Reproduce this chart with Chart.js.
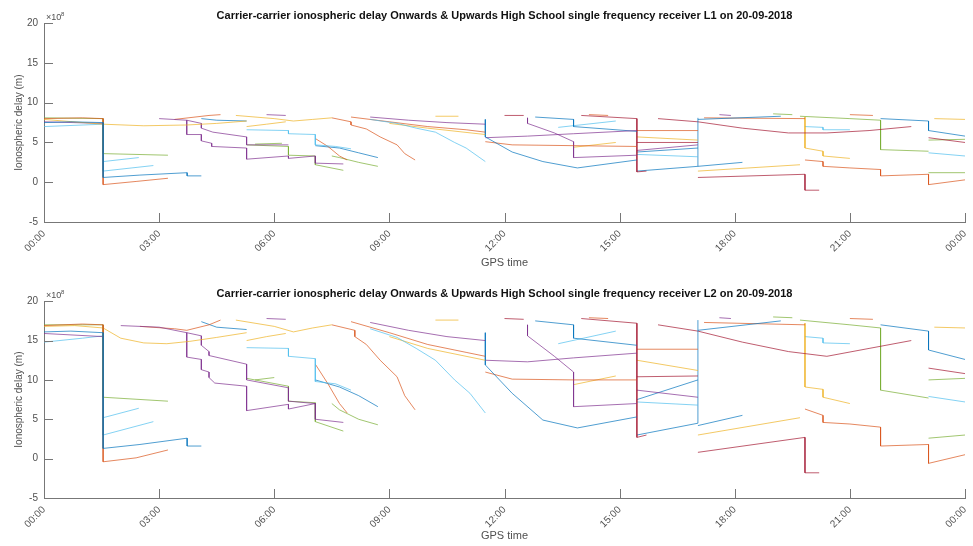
<!DOCTYPE html>
<html>
<head>
<meta charset="utf-8">
<script src="https://cdn.jsdelivr.net/npm/chart.js@4.4.1/dist/chart.umd.min.js"></script>
<style>
  body { margin: 0; background: #fff; }
  .panel { position: absolute; left: 0; width: 973px; height: 273px; }
</style>
</head>
<body>
<div class="panel" style="top:0"><canvas id="chartL1" width="973" height="273"></canvas></div>
<div class="panel" style="top:273px"><canvas id="chartL2" width="973" height="273"></canvas></div>
<script>
// MATLAB default line colours
const matlabColors = ['#0072BD', '#D95319', '#EDB120', '#7E2F8E', '#77AC30', '#4DBEEE', '#A2142F'];

// x-axis tick labels (every 3 h)
const hourLabels = ['00:00', '03:00', '06:00', '09:00', '12:00', '15:00', '18:00', '21:00', '00:00'];

// satellite tracks, [GPS hour, delay x1e8 m]
const l1Tracks = [
  [[0, 7.5], [0.7, 7.6], [1.54, 7.5], [1.54, 0.6], [2.5, 0.9], [3.73, 1.2], [3.73, 0.8], [4.1, 0.8]],
  [[0, 8.0], [1.0, 8.1], [1.54, 8.0], [1.54, -0.3], [2.4, 0.1], [3.23, 0.5]],
  [[0, 7.9], [1.54, 7.3], [2.6, 7.1], [3.72, 7.2], [4.5, 7.4], [5.28, 7.7]],
  [[0, 7.6], [1.54, 7.4]],
  [[0, 8.1], [1.54, 8.0], [1.54, 3.6], [3.23, 3.4]],
  [[0, 7.0], [1.54, 7.3], [1.54, 1.4], [2.85, 2.1]],
  [[1.54, 2.6], [2.47, 3.1]],
  [[3.0, 8.0], [3.72, 7.8], [3.72, 6.0], [4.1, 6.0], [4.1, 5.2], [4.37, 4.9], [4.37, 4.5], [5.28, 4.3], [5.28, 2.9], [6.37, 3.3], [6.37, 3.0], [7.07, 3.3], [7.07, 2.4], [7.8, 2.3]],
  [[3.72, 7.8], [4.1, 7.4], [4.1, 6.8], [4.4, 6.3], [5.28, 5.7], [5.28, 4.7], [6.37, 4.7]],
  [[3.4, 7.9], [4.3, 8.4], [4.6, 8.5]],
  [[4.1, 8.0], [4.5, 7.8], [5.28, 7.7]],
  [[5.28, 6.6], [6.37, 6.5], [6.37, 6.1], [7.07, 6.0], [7.07, 4.7], [7.6, 4.5], [8.0, 4.2]],
  [[5.28, 4.7], [6.37, 4.5], [6.37, 3.4], [7.07, 3.3], [7.07, 2.2], [7.8, 1.5]],
  [[5.5, 4.8], [6.2, 4.9]],
  [[5.0, 8.4], [6.0, 8.0], [6.5, 7.7], [7.0, 7.9], [7.5, 8.1]],
  [[7.07, 5.5], [7.4, 4.5], [7.7, 3.3], [7.9, 2.8]],
  [[5.28, 7.0], [5.8, 7.3], [6.3, 7.6]],
  [[7.5, 8.1], [8.0, 7.6], [8.0, 7.2], [8.4, 6.7], [8.76, 5.7], [9.2, 4.7], [9.4, 3.6], [9.67, 2.8]],
  [[7.07, 4.6], [7.7, 4.3], [8.2, 3.7], [8.7, 3.1]],
  [[7.5, 3.3], [7.7, 3.1], [8.2, 2.5], [8.7, 2.0]],
  [[8.5, 7.9], [9.2, 7.4], [9.7, 6.8], [10.2, 6.3], [10.7, 5.0], [11.0, 4.3], [11.5, 2.6]],
  [[8.0, 8.2], [9.0, 7.6], [10.0, 7.0], [11.0, 6.6], [11.5, 6.3]],
  [[8.5, 8.2], [9.5, 7.8], [10.5, 7.5], [11.5, 7.3]],
  [[9.0, 7.4], [10.0, 6.8], [11.5, 6.0]],
  [[11.5, 7.9], [11.5, 5.7], [12.2, 3.8], [13.0, 2.6], [13.9, 1.8], [15.45, 2.8]],
  [[11.5, 5.1], [12.2, 4.7], [13.8, 4.6], [15.45, 4.5]],
  [[11.5, 5.6], [12.6, 5.8], [13.8, 6.1], [15.45, 6.5]],
  [[12.6, 8.1], [12.6, 7.4], [13.3, 6.2], [13.8, 5.1], [13.8, 3.1], [15.45, 3.4]],
  [[12.8, 8.2], [13.8, 7.9], [13.8, 7.0], [15.45, 6.4]],
  [[13.4, 6.9], [14.9, 7.7]],
  [[13.8, 4.4], [14.9, 5.0]],
  [[14.0, 8.4], [15.45, 8.0], [15.45, 1.3], [15.7, 1.4]],
  [[15.45, 6.5], [17.04, 6.5]],
  [[15.45, 5.7], [17.04, 5.3]],
  [[15.45, 5.0], [17.04, 5.0]],
  [[15.45, 4.0], [17.04, 4.7]],
  [[15.45, 3.8], [17.04, 4.3]],
  [[15.45, 3.5], [17.04, 3.2]],
  [[15.45, 1.4], [17.04, 2.0], [17.04, 8.1]],
  [[17.04, 0.6], [19.83, 1.0], [19.83, -1.0], [20.2, -1.0]],
  [[17.04, 1.4], [19.7, 2.2]],
  [[17.04, 2.0], [18.2, 2.5]],
  [[16.0, 8.0], [17.04, 7.6], [18.2, 6.8], [19.4, 6.2], [20.4, 6.2], [21.5, 6.5], [22.6, 7.0]],
  [[17.04, 7.9], [19.2, 8.3]],
  [[17.2, 8.1], [19.83, 8.0]],
  [[19.83, 8.2], [19.83, 4.3], [20.3, 3.9], [20.3, 3.3], [21.0, 3.0]],
  [[19.83, 2.8], [20.3, 2.6], [20.3, 2.0], [21.0, 1.8], [21.8, 1.6], [21.8, 0.8], [23.05, 1.0], [23.05, -0.3], [24, 0.3]],
  [[19.83, 7.0], [20.3, 6.9], [20.3, 6.6], [21.0, 6.6]],
  [[19.7, 8.3], [21.0, 8.0], [21.8, 7.8], [21.8, 4.1], [23.05, 3.9]],
  [[21.8, 8.0], [23.05, 7.7], [23.05, 6.5], [24, 5.8]],
  [[23.05, 5.6], [24, 5.0]],
  [[23.05, 5.3], [24, 5.4]],
  [[23.05, 3.7], [24, 3.3]],
  [[23.2, 8.0], [24, 7.9]],
  [[23.05, 1.2], [24, 1.2]],
  [[5.8, 8.5], [6.3, 8.4]],
  [[10.2, 8.3], [10.8, 8.3]],
  [[12.0, 8.4], [12.5, 8.4]],
  [[14.2, 8.5], [14.7, 8.4]],
  [[17.6, 8.5], [17.9, 8.4]],
  [[19.0, 8.6], [19.5, 8.5]],
  [[21.0, 8.5], [21.6, 8.4]]
];
const l1TrackColors = [0, 1, 2, 3, 4, 5, 5, 3, 3, 1, 0, 5, 4, 4, 2, 1, 2, 1, 0, 4, 5, 1, 3, 2, 0, 1, 3, 3, 0, 5, 2, 6,
  1, 2, 6, 3, 0, 5, 0, 6, 2, 0, 6, 0, 1, 2, 1, 5, 4, 0, 6, 4, 5, 2, 4, 3, 2, 6, 1, 3, 4, 1];

const l2Tracks = [
  [[0, 16.1], [0.7, 16.2], [1.54, 16.0], [1.54, 1.3], [2.5, 1.8], [3.73, 2.6], [3.73, 1.6], [4.1, 1.6]],
  [[0, 16.9], [1.0, 17.1], [1.54, 17.0], [1.54, -0.4], [2.4, 0.1], [3.23, 1.1]],
  [[0, 16.8], [0.8, 16.9], [1.54, 16.6], [2.0, 15.3], [2.6, 14.7], [3.2, 14.6], [3.8, 14.9], [4.5, 15.4], [5.28, 16.0]],
  [[0, 15.9], [1.54, 15.5]],
  [[0, 17.0], [1.54, 17.0], [1.54, 7.8], [3.23, 7.3]],
  [[0, 14.8], [1.0, 15.3], [1.54, 15.6], [1.54, 3.0], [2.85, 4.7]],
  [[1.54, 5.2], [2.47, 6.4]],
  [[2.0, 16.9], [3.0, 16.7], [3.72, 16.0], [3.72, 12.9], [4.1, 12.6], [4.1, 11.3], [4.3, 11.0], [4.3, 10.3], [4.45, 9.6], [5.28, 9.2], [5.28, 6.1], [6.37, 6.9], [6.37, 6.3], [7.07, 7.0], [7.07, 5.0], [7.8, 4.6]],
  [[3.72, 16.0], [4.1, 15.6], [4.1, 14.4], [4.3, 13.6], [4.3, 13.1], [5.28, 12.0], [5.28, 10.0], [6.37, 9.0], [6.37, 7.3], [7.07, 7.0]],
  [[2.5, 16.8], [3.4, 16.5], [3.72, 16.3], [4.3, 17.0], [4.6, 17.6]],
  [[4.1, 17.4], [4.5, 16.7], [5.28, 16.4]],
  [[5.28, 14.1], [6.37, 14.0], [6.37, 13.0], [7.07, 12.7], [7.07, 9.8], [7.6, 9.5], [8.0, 8.7]],
  [[5.28, 10.2], [6.37, 9.2], [6.37, 7.3], [7.07, 7.1], [7.07, 4.7], [7.8, 3.5]],
  [[5.5, 10.0], [6.0, 10.3]],
  [[5.0, 17.6], [6.0, 16.8], [6.5, 16.1], [7.0, 16.6], [7.5, 17.0]],
  [[7.07, 12.0], [7.4, 9.5], [7.7, 7.0], [7.9, 5.8]],
  [[5.28, 15.0], [5.8, 15.5], [6.3, 15.9]],
  [[7.5, 17.0], [8.1, 16.3], [8.1, 15.5], [8.4, 14.5], [8.76, 12.5], [9.2, 10.4], [9.4, 8.0], [9.67, 6.2]],
  [[7.07, 10.0], [7.7, 9.1], [8.2, 8.0], [8.7, 6.6]],
  [[7.5, 7.0], [7.7, 6.2], [8.2, 5.0], [8.7, 4.3]],
  [[8.5, 16.5], [9.2, 15.4], [9.7, 14.0], [10.2, 12.5], [10.7, 10.0], [11.1, 8.3], [11.5, 5.8]],
  [[8.0, 17.4], [9.0, 16.0], [10.0, 14.5], [11.0, 13.5], [11.5, 13.0]],
  [[8.5, 17.3], [9.5, 16.3], [10.5, 15.5], [11.5, 15.0]],
  [[9.0, 15.5], [10.0, 14.0], [11.5, 12.5]],
  [[11.5, 16.0], [11.5, 11.9], [12.2, 8.3], [13.0, 4.9], [13.9, 3.9], [15.45, 5.3]],
  [[11.5, 11.0], [12.2, 10.1], [13.8, 10.0], [15.45, 10.0]],
  [[11.5, 12.5], [12.6, 12.3], [13.8, 12.8], [15.45, 13.4]],
  [[12.6, 17.0], [12.6, 15.6], [13.3, 13.0], [13.8, 11.0], [13.8, 6.6], [15.45, 7.0]],
  [[12.8, 17.5], [13.8, 17.0], [13.8, 15.3], [15.45, 14.4]],
  [[13.4, 14.6], [14.9, 16.2]],
  [[13.8, 9.4], [14.9, 10.5]],
  [[14.0, 17.8], [15.45, 17.2], [15.45, 2.7], [15.7, 3.0]],
  [[15.45, 13.9], [17.04, 13.9]],
  [[15.45, 12.5], [17.04, 11.2]],
  [[15.45, 10.4], [17.04, 10.5]],
  [[15.45, 8.7], [17.04, 7.8]],
  [[15.45, 7.5], [17.04, 10.0]],
  [[15.45, 7.2], [17.04, 6.8]],
  [[15.45, 3.0], [17.04, 4.5], [17.04, 17.6]],
  [[17.04, 0.8], [19.83, 2.7], [19.83, -1.8], [20.2, -1.8]],
  [[17.04, 3.0], [19.7, 5.2]],
  [[17.04, 4.2], [18.2, 5.5]],
  [[16.0, 17.0], [17.04, 16.2], [18.2, 14.8], [19.4, 13.6], [20.4, 13.0], [21.5, 14.0], [22.6, 15.0]],
  [[17.04, 16.3], [19.2, 17.5]],
  [[17.2, 17.3], [19.83, 17.0]],
  [[19.83, 17.2], [19.83, 9.1], [20.3, 8.8], [20.3, 7.8], [21.0, 7.0]],
  [[19.83, 6.3], [20.3, 5.5], [20.3, 4.6], [21.0, 4.4], [21.8, 4.0], [21.8, 1.6], [23.05, 1.8], [23.05, -0.6], [24, 0.5]],
  [[19.83, 15.5], [20.3, 15.3], [20.3, 14.7], [21.0, 14.6]],
  [[19.7, 17.6], [21.0, 17.0], [21.8, 16.6], [21.8, 8.7], [23.05, 7.7]],
  [[21.8, 17.0], [23.05, 16.2], [23.05, 13.8], [24, 12.6]],
  [[23.05, 11.5], [24, 10.8]],
  [[23.05, 10.0], [24, 10.2]],
  [[23.05, 7.9], [24, 7.2]],
  [[23.2, 16.7], [24, 16.6]],
  [[23.05, 2.6], [24, 3.0]],
  [[5.8, 17.8], [6.3, 17.7]],
  [[10.2, 17.6], [10.8, 17.6]],
  [[12.0, 17.8], [12.5, 17.7]],
  [[14.2, 17.9], [14.7, 17.8]],
  [[17.6, 17.9], [17.9, 17.8]],
  [[19.0, 18.0], [19.5, 17.9]],
  [[21.0, 17.8], [21.6, 17.7]]
];
const l2TrackColors = l1TrackColors;

function toDatasets(tracks, colorIdx) {
  return tracks.map((tr, i) => ({
    data: tr.map(p => ({ x: p[0], y: p[1] })),
    borderColor: matlabColors[colorIdx[i] % matlabColors.length] + 'B0',
    borderWidth: 1,
    pointRadius: 0,
    fill: false
  }));
}

const axisGrey = '#777';
const labelGrey = '#505050';
const fontFam = 'Liberation Sans, Arial, sans-serif';

// ticks pointing into the axes, plus the x10^8 exponent label
const matlabAxes = {
  id: 'matlabAxes',
  afterDraw(chart) {
    const { ctx, chartArea, scales } = chart;
    const x = scales.x, y = scales.y;
    ctx.save();
    ctx.strokeStyle = axisGrey;
    ctx.lineWidth = 1;
    ctx.beginPath();
    x.ticks.forEach(t => {
      const px = Math.round(x.getPixelForValue(t.value)) + 0.5;
      ctx.moveTo(px, chartArea.bottom);
      ctx.lineTo(px, chartArea.bottom - 9);
    });
    y.ticks.forEach(t => {
      const py = Math.round(y.getPixelForValue(t.value)) + 0.5;
      ctx.moveTo(chartArea.left, py);
      ctx.lineTo(chartArea.left + 9, py);
    });
    ctx.stroke();
    ctx.fillStyle = labelGrey;
    ctx.textBaseline = 'alphabetic';
    ctx.font = '9px ' + fontFam;
    ctx.fillText('\u00d710', chartArea.left + 2, chartArea.top - 3);
    ctx.font = '6px ' + fontFam;
    ctx.fillText('8', chartArea.left + 17, chartArea.top - 7);
    ctx.restore();
  }
};

function makeChart(id, tracks, colors, titleText, titleTop, xAxisHeight) {
  return new Chart(document.getElementById(id), {
    type: 'line',
    data: { datasets: toDatasets(tracks, colors) },
    plugins: [matlabAxes],
    options: {
      responsive: false,
      animation: false,
      layout: { padding: { left: 0, right: 8, top: 0, bottom: 0 } },
      plugins: {
        legend: { display: false },
        tooltip: { enabled: false },
        title: {
          display: true,
          fullSize: false,
          text: titleText,
          color: '#111',
          font: { family: fontFam, size: 11, weight: 'bold' },
          padding: { top: titleTop, bottom: 1 }
        }
      },
      scales: {
        x: {
          type: 'linear',
          min: 0,
          max: 24,
          grid: { display: false, drawTicks: false },
          border: { display: true, color: axisGrey },
          ticks: {
            stepSize: 3,
            minRotation: 45,
            maxRotation: 45,
            autoSkip: false,
            padding: 6,
            color: labelGrey,
            font: { family: fontFam, size: 10 },
            callback: v => hourLabels[Math.round(v / 3)]
          },
          title: {
            display: true,
            text: 'GPS time',
            color: labelGrey,
            font: { family: fontFam, size: 11 },
            padding: { top: 0, bottom: 3 }
          },
          afterFit: s => { s.height = xAxisHeight; s.paddingRight = 0; }
        },
        y: {
          min: -5,
          max: 20,
          grid: { display: false, drawTicks: false },
          border: { display: true, color: axisGrey },
          ticks: {
            stepSize: 5,
            padding: 6,
            color: labelGrey,
            font: { family: fontFam, size: 10 }
          },
          title: {
            display: true,
            text: 'Ionospheric delay (m)',
            color: labelGrey,
            font: { family: fontFam, size: 10 },
            padding: { top: 13, bottom: 0 }
          },
          afterFit: s => { s.width = 44; }
        }
      }
    }
  });
}

makeChart('chartL1', l1Tracks, l1TrackColors,
  'Carrier-carrier ionospheric delay Onwards & Upwards High School single frequency receiver L1 on 20-09-2018', 9, 51);
makeChart('chartL2', l2Tracks, l2TrackColors,
  'Carrier-carrier ionospheric delay Onwards & Upwards High School single frequency receiver L2 on 20-09-2018', 14, 48);
</script>
</body>
</html>
